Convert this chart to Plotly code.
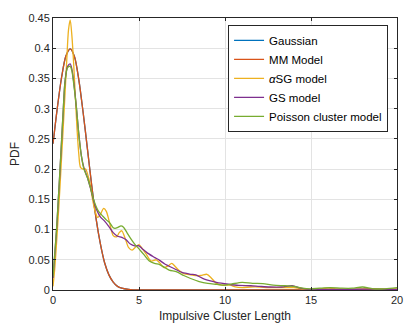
import plotly.graph_objects as go

# readings from the reference
gauss_x = [0, 0.25, 0.5, 0.75, 1.0, 1.25, 1.5, 1.75, 2.0, 2.25, 2.5, 2.75, 3.0, 3.25,
           3.5, 3.75, 4.0, 4.5, 5.0, 6.0, 8.0, 10.0, 12.0, 14.0, 16.0, 18.0, 20.0]
gauss_y = [0.242, 0.301, 0.352, 0.387, 0.399, 0.386, 0.348, 0.294, 0.234, 0.173, 0.119,
           0.077, 0.045, 0.025, 0.013, 0.006, 0.003, 0.0006, 0.0001, 0, 0, 0, 0, 0, 0, 0, 0]

mm_x = gauss_x
mm_y = gauss_y

asg_x = [0, 0.1, 0.2, 0.3, 0.4, 0.5, 0.6, 0.7, 0.8, 0.9, 1.0, 1.1, 1.2, 1.3, 1.4, 1.5,
         1.6, 1.75, 1.9, 2.0, 2.15, 2.3, 2.45, 2.6, 2.75, 2.95, 3.1, 3.3, 3.5, 3.7, 3.85,
         4.0, 4.2, 4.4, 4.6, 4.8, 5.0, 5.2, 5.4, 5.7, 6.0, 6.2, 6.45, 6.7, 6.9, 7.1, 7.3,
         7.6, 8.0, 8.3, 8.6, 8.95, 9.2, 9.5, 9.8, 10.3, 10.6, 11.0, 11.5, 12.0, 12.5,
         13.0, 13.5, 14.0, 14.5, 15.0, 15.5, 16.0, 16.5, 17.0, 18.0, 19.0, 20.0]
asg_y = [0.006, 0.035, 0.075, 0.12, 0.168, 0.22, 0.272, 0.325, 0.38, 0.43, 0.447, 0.42,
         0.375, 0.32, 0.265, 0.225, 0.203, 0.2, 0.2, 0.193, 0.176, 0.15, 0.13, 0.12, 0.125,
         0.135, 0.13, 0.11, 0.09, 0.088, 0.095, 0.098, 0.085, 0.07, 0.066, 0.071, 0.075,
         0.068, 0.06, 0.048, 0.05, 0.045, 0.037, 0.04, 0.044, 0.039, 0.033, 0.027, 0.025,
         0.024, 0.024, 0.026, 0.02, 0.011, 0.008, 0.008, 0.005, 0.004, 0.005, 0.005, 0.004,
         0.004, 0.004, 0.004, 0.002, 0.001, 0.002, 0.003, 0.002, 0.001, 0.002, 0.002, 0.002]

gs_x = [0, 0.1, 0.2, 0.3, 0.4, 0.5, 0.6, 0.7, 0.85, 1.0, 1.1, 1.2, 1.35, 1.5, 1.65, 1.8,
        2.0, 2.2, 2.4, 2.55, 2.75, 3.0, 3.25, 3.5, 3.75, 4.0, 4.25, 4.5, 4.75, 5.0, 5.2,
        5.5, 5.9, 6.2, 6.5, 7.0, 7.5, 8.0, 8.3, 8.8, 9.5, 10.2, 10.8, 11.5, 12.0, 12.6,
        13.3, 13.9, 14.4, 14.9, 16.0, 17.0, 18.5, 20.0]
gs_y = [0.02, 0.058, 0.097, 0.145, 0.195, 0.247, 0.3, 0.346, 0.37, 0.374, 0.365, 0.345,
        0.305, 0.258, 0.222, 0.202, 0.186, 0.166, 0.144, 0.132, 0.121, 0.114, 0.105, 0.095,
        0.089, 0.087, 0.083, 0.076, 0.073, 0.073, 0.068, 0.061, 0.054, 0.049, 0.043, 0.036,
        0.029, 0.026, 0.025, 0.018, 0.0127, 0.0095, 0.0075, 0.007, 0.006, 0.005, 0.005,
        0.007, 0.003, 0.001, 0.001, 0.001, 0.0015, 0.001]

pc_x = [0, 0.1, 0.2, 0.3, 0.4, 0.5, 0.6, 0.7, 0.85, 1.0, 1.1, 1.2, 1.35, 1.5, 1.65, 1.8,
        2.0, 2.2, 2.4, 2.65, 2.9, 3.1, 3.3, 3.5, 3.6, 3.8, 3.95, 4.1, 4.3, 4.5, 4.75, 5.0,
        5.3, 5.6, 5.9, 6.2, 6.5, 6.75, 7.2, 7.6, 8.0, 8.5, 9.0, 9.5, 10.0, 10.4, 11.0,
        11.6, 12.2, 12.8, 13.5, 14.0, 14.5, 14.9, 15.5, 16.1, 16.8, 17.4, 18.0, 18.6,
        19.3, 20.0]
pc_y = [0.022, 0.06, 0.098, 0.146, 0.196, 0.248, 0.3, 0.345, 0.368, 0.37, 0.362, 0.342,
        0.305, 0.258, 0.222, 0.2, 0.186, 0.167, 0.146, 0.13, 0.122, 0.116, 0.111, 0.103,
        0.102, 0.104, 0.106, 0.104, 0.095, 0.086, 0.076, 0.068, 0.058, 0.048, 0.044, 0.042,
        0.037, 0.033, 0.03, 0.024, 0.019, 0.014, 0.011, 0.0095, 0.008, 0.01, 0.0127, 0.011,
        0.0105, 0.008, 0.007, 0.006, 0.003, 0.0017, 0.003, 0.004, 0.003, 0.003, 0.005,
        0.002, 0.002, 0.004]

x_ticks = [0, 5, 10, 15, 20]
y_ticks = [0, 0.05, 0.1, 0.15, 0.2, 0.25, 0.3, 0.35, 0.4, 0.45]
y_labels = ["0", "0.05", "0.1", "0.15", "0.2", "0.25", "0.3", "0.35", "0.4", "0.45"]

series = [
    ("Gaussian", gauss_x, gauss_y, "#0072BD"),
    ("MM Model", mm_x, mm_y, "#D95319"),
    ("<i>α</i>SG model", asg_x, asg_y, "#EDB120"),
    ("GS model", gs_x, gs_y, "#7E2F8E"),
    ("Poisson cluster model", pc_x, pc_y, "#77AC30"),
]

fig = go.Figure()
for name, xs, ys, col in series:
    fig.add_trace(go.Scatter(
        x=xs, y=ys, name=name, mode="lines",
        line=dict(color=col, width=1.3, shape="spline", smoothing=0.8),
    ))

axis_common = dict(
    showline=True, linecolor="#262626", linewidth=1, mirror="ticks",
    ticks="inside", ticklen=3, tickcolor="#262626",
    showgrid=True, gridcolor="#e3e3e3", gridwidth=1, zeroline=False,
    tickfont=dict(size=11, color="#262626"), automargin=False,
)

# the page body adds an 8px margin, so the figure is 8px smaller than the window
fig.update_layout(
    width=407, height=321,
    margin=dict(l=45, r=18, t=10, b=39),
    paper_bgcolor="white", plot_bgcolor="white",
    font=dict(family="Liberation Sans, Arial, sans-serif", color="#262626"),
    xaxis=dict(range=[0, 20], tickvals=x_ticks,
               title=dict(text="Impulsive Cluster Length", font=dict(size=12), standoff=6),
               **axis_common),
    yaxis=dict(range=[0, 0.45], tickvals=y_ticks, ticktext=y_labels,
               title=dict(text="PDF", font=dict(size=12), standoff=8),
               **axis_common),
    legend=dict(x=0.974, y=0.975, xanchor="right", yanchor="top",
                bgcolor="white", bordercolor="#262626", borderwidth=1,
                font=dict(size=11.5, color="#000000"), tracegroupgap=0,
                itemwidth=30),
    showlegend=True,
)

fig.write_html("out.html")
